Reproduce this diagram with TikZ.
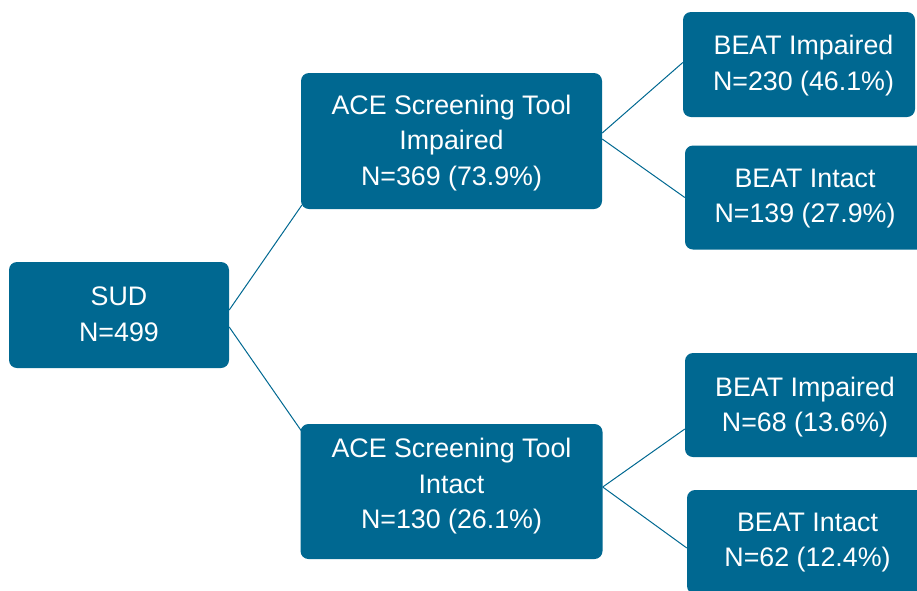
\documentclass[tikz,border=0pt]{standalone}
\usepackage{fontspec}
\setmainfont{Liberation Sans}
\usetikzlibrary{calc}
\definecolor{boxblue}{RGB}{0,104,145}
\begin{document}
\begin{tikzpicture}[x=1pt,y=-1pt,
  box/.style n args={2}{fill=boxblue, draw=none, rounded corners=8pt,
    minimum width=#1, minimum height=#2, inner sep=0pt},
  txt/.style={text=white, align=center, inner sep=0pt,
    font=\fontsize{26.8}{35.5}\selectfont},
  link/.style={draw=boxblue, line width=1pt}]
\useasboundingbox (0,0) rectangle (917,590);
\clip (0,0) rectangle (917,590);
% boxes
\node[box={220}{106}] (sud)   at (119,315)   {};
\node[box={301}{136}] (ace1)  at (451.5,141) {};
\node[box={302}{135}] (ace2)  at (451.5,491.5) {};
\node[box={232}{105}] (beat1) at (799,64.5)  {};
\node[box={240}{104}] (beat2) at (805,197.5) {};
\node[box={240}{104}] (beat3) at (805,405)   {};
\node[box={240}{104}] (beat4) at (807,542)   {};
% texts
\node[txt] (sudt)   at (119,314.5)   {SUD\\N=499};
\node[txt] (ace1t)  at (451.5,143) {ACE Screening Tool\\Impaired\\N=369 (73.9\%)};
\node[txt] (ace2t)  at (451.5,486.5)   {ACE Screening Tool\\Intact\\N=130 (26.1\%)};
\node[txt] (beat1t) at (803.5,65.5)  {BEAT Impaired\\N=230 (46.1\%)};
\node[txt] (beat2t) at (805,198.5)   {BEAT Intact\\N=139 (27.9\%)};
\node[txt] (beat3t) at (805,407)     {BEAT Impaired\\N=68 (13.6\%)};
\node[txt] (beat4t) at (807.5,542.5) {BEAT Intact\\N=62 (12.4\%)};
% connectors
\draw[link] ($(sud.east)+(0,-5)$) -- ($(ace1.south west)+(1,-4)$);
\draw[link] ($(sud.east)+(0,12)$) -- ($(ace2.north west)+(1,7)$);
\draw[link] ($(ace1.east)+(0,-8)$) -- ($(beat1.west)+(0,-2)$);
\draw[link] ($(ace1.east)+(0,-2)$) -- (beat2.west);
\draw[link] ($(ace2.east)+(0,-4.5)$) -- ($(beat3.west)+(0,24)$);
\draw[link] ($(ace2.east)+(0,-4.5)$) -- ($(beat4.west)+(0,6)$);
\end{tikzpicture}
\end{document}
